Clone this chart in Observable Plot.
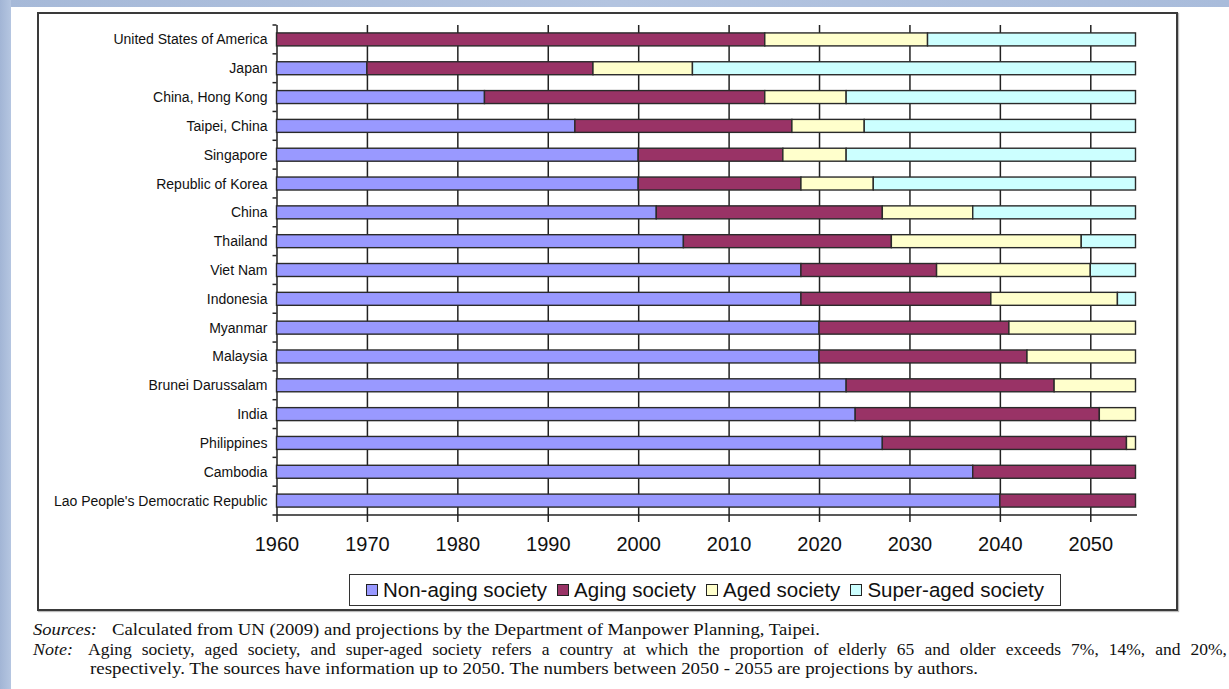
<!DOCTYPE html>
<html>
<head>
<meta charset="utf-8">
<script src="https://cdn.jsdelivr.net/npm/d3@7"></script>
<script src="https://cdn.jsdelivr.net/npm/@observablehq/plot@0.6"></script>
<style>
  html, body { margin: 0; padding: 0; background: #fff; }
  body { position: relative; width: 1229px; height: 689px; overflow: hidden; font-family: "Liberation Sans", Arial, sans-serif; }
  #topband { position: absolute; left: 0; top: 0; width: 1229px; height: 7px; background: linear-gradient(to right, #a6b9d8, #b3c4e0 50%, #a9bcdb); }
  #leftband { position: absolute; left: 0; top: 0; width: 11px; height: 689px; background: linear-gradient(to right, #a2b5d5, #b5c6e1); }
  #chart { position: absolute; left: 0; top: 0; }
  #frame { position: absolute; left: 37px; top: 12px; width: 1137px; height: 595px; border: 2px solid #3a3a3a; box-shadow: 1px 1px 1px #bbb; pointer-events: none; }
  #legend { position: absolute; left: 349px; top: 574px; width: 712px; height: 32px; box-sizing: border-box; border: 1.5px solid #333; display: flex; align-items: center; justify-content: center; gap: 10px; font-size: 20.5px; color: #111; white-space: nowrap; }
  #legend .item { display: flex; align-items: center; gap: 5px; }
  #legend .sw { width: 10px; height: 10px; border: 1.5px solid #222; display: inline-block; }
  #foot { position: absolute; left: 0; top: 612px; }
</style>
</head>
<body>
<div id="topband"></div>
<div id="leftband"></div>
<div id="chart"></div>
<div id="frame"></div>
<div id="legend"></div>
<svg id="foot" width="1229" height="77"></svg>
<script>
// ---- Data ----
const countries = [
  "United States of America", "Japan", "China, Hong Kong", "Taipei, China", "Singapore",
  "Republic of Korea", "China", "Thailand", "Viet Nam", "Indonesia", "Myanmar", "Malaysia",
  "Brunei Darussalam", "India", "Philippines", "Cambodia", "Lao People's Democratic Republic"
];
const stages = ["Non-aging society", "Aging society", "Aged society", "Super-aged society"];
const stageColors = ["#9999ff", "#993366", "#ffffcc", "#ccffff"];
const startYear = 1960;
const endYear = 2055;
// year each stage ends (transition years)
const nonAgingEnd = [1960, 1970, 1983, 1993, 2000, 2000, 2002, 2005, 2018, 2018, 2020, 2020, 2023, 2024, 2027, 2037, 2040];
const agingEnd    = [2014, 1995, 2014, 2017, 2016, 2018, 2027, 2028, 2033, 2039, 2041, 2043, 2046, 2051, 2054, 2055, 2055];
const agedEnd     = [2032, 2006, 2023, 2025, 2023, 2026, 2037, 2049, 2050, 2053, 2055, 2055, 2055, 2055, 2055, 2055, 2055];
const tickYears = [1960, 1970, 1980, 1990, 2000, 2010, 2020, 2030, 2040, 2050];

const sourcesLabel = "Sources:";
const sourcesText = "Calculated from UN (2009) and projections by the Department of Manpower Planning, Taipei.";
const noteLabel = "Note:";
const noteLine1 = "Aging society, aged society, and super-aged society refers a country at which the proportion of elderly 65 and older exceeds 7%, 14%, and 20%,";
const noteLine2 = "respectively.  The sources have information up to 2050.  The numbers between 2050 - 2055 are projections by authors.";

// ---- Build segments ----
const segments = countries.flatMap((c, i) => {
  const bounds = [startYear, nonAgingEnd[i], agingEnd[i], agedEnd[i], endYear];
  return stages.map((s, j) => ({country: c, stage: s, start: bounds[j], end: bounds[j + 1]}))
               .filter(d => d.end > d.start);
});

const font = "'Liberation Sans', Arial, sans-serif";

// custom mark: y-axis boundary ticks and x baseline
function axisLines(index, scales, values, dimensions) {
  const {marginTop, marginBottom, marginLeft, height} = dimensions;
  const n = countries.length;
  const step = (height - marginTop - marginBottom) / n;
  const g = d3.create("svg:g").attr("stroke", "#222").attr("stroke-width", 1.5);
  for (let k = 0; k <= n; k++) {
    const y = marginTop + k * step;
    g.append("line").attr("x1", marginLeft - 4).attr("x2", marginLeft).attr("y1", y).attr("y2", y);
  }
  const yb = height - marginBottom;
  g.append("line").attr("x1", scales.x(startYear)).attr("x2", scales.x(endYear) + 1.5).attr("y1", yb).attr("y2", yb);
  return g.node();
}

const chart = Plot.plot({
  width: 1229,
  height: 560,
  marginLeft: 276.5,
  marginRight: 93.5,
  marginTop: 25,
  marginBottom: 45,
  style: {background: "none", fontFamily: font, color: "#111", overflow: "visible"},
  x: {domain: [startYear, endYear], label: null},
  y: {domain: countries, paddingInner: 0.55, paddingOuter: 0.275, round: false, label: null},
  color: {domain: stages, range: stageColors},
  marks: [
    Plot.ruleX(tickYears, {stroke: "#222", strokeWidth: 1.5}),
    Plot.barX(segments, {x1: "start", x2: "end", y: "country", fill: "stage", stroke: "#2a2a2a", strokeWidth: 1.4}),
    Plot.axisX({ticks: tickYears, tickFormat: d => String(d), tickSize: 7, tickPadding: 14, fontSize: 20, stroke: "#222", strokeWidth: 1.5, label: null}),
    Plot.axisY({tickSize: 0, tickPadding: 9.5, fontSize: 14, label: null}),
    axisLines
  ]
});
document.getElementById("chart").appendChild(chart);

// ---- Legend ----
const legend = d3.select("#legend");
stages.forEach((s, i) => {
  const item = legend.append("span").attr("class", "item");
  item.append("span").attr("class", "sw").style("background", stageColors[i]);
  item.append("span").text(s);
});

// ---- Footnote ----
const foot = d3.select("#foot")
  .style("font-family", "'Liberation Serif', 'Times New Roman', serif")
  .style("font-size", "16.5px")
  .style("fill", "#111")
  .style("white-space", "pre");
foot.append("text").attr("x", 33).attr("y", 23).attr("font-style", "italic")
  .attr("textLength", 64).attr("lengthAdjust", "spacingAndGlyphs").text(sourcesLabel);
foot.append("text").attr("x", 112).attr("y", 23)
  .attr("textLength", 708).attr("lengthAdjust", "spacingAndGlyphs").text(sourcesText);
foot.append("text").attr("x", 33).attr("y", 43).attr("font-style", "italic")
  .attr("textLength", 40).attr("lengthAdjust", "spacingAndGlyphs").text(noteLabel);
// justified line: widen glyphs slightly, then spread the rest over word spaces
const justified = foot.append("text").attr("x", 88).attr("y", 43).style("font-size", "17.5px").text(noteLine1);
{
  const target = 1139;
  const natural = justified.node().getComputedTextLength();
  const spaces = (noteLine1.match(/ /g) || []).length;
  if (natural < target && spaces > 0) justified.style("word-spacing", ((target - natural) / spaces) + "px");
  else justified.attr("textLength", target).attr("lengthAdjust", "spacingAndGlyphs");
}
foot.append("text").attr("x", 90).attr("y", 62)
  .attr("textLength", 888).attr("lengthAdjust", "spacingAndGlyphs").text(noteLine2);
</script>
</body>
</html>
